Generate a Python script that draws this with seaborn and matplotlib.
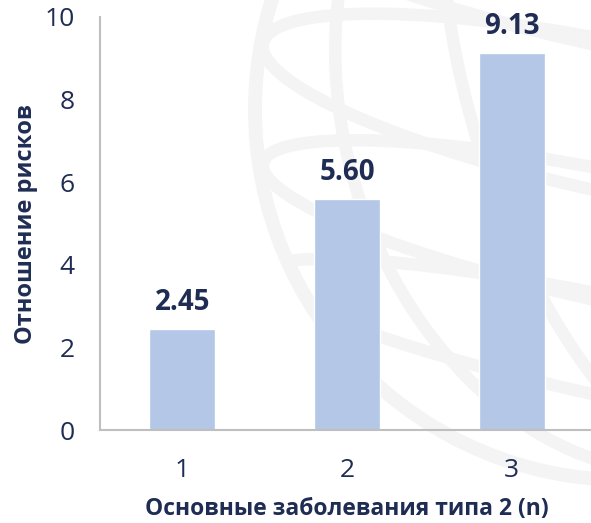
import pandas as pd
import matplotlib.pyplot as plt
import seaborn as sns
from matplotlib.patches import Ellipse, Circle

sns.set_style('white')
plt.rcParams['font.family'] = ['Open Sans', 'DejaVu Sans']

# chart data
categories = ['1', '2', '3']
risk_ratio = [2.45, 5.60, 9.13]
value_labels = ['2.45', '5.60', '9.13']

navy = '#1F2D54'
grey = '#BFBFBF'
bar_color = '#B4C7E7'

df = pd.DataFrame({'n': categories, 'ratio': risk_ratio})

fig = plt.figure(figsize=(5.91, 5.23), dpi=100)

# faint globe watermark in the background (pixel coords, y down)
wm = fig.add_axes([0, 0, 1, 1], zorder=0)
wm.set_xlim(0, 591)
wm.set_ylim(523, 0)
wm.axis('off')
wm_col = '#F4F4F4'
cx, cy, r = 625, 110, 370
outer = Circle((cx, cy), r, fill=False, ec=wm_col, lw=10)
wm.add_patch(outer)
clip = Circle((cx, cy), r, transform=wm.transData)
for w in [560, 300]:
    e = Ellipse((cx, cy), w, 2 * r, angle=-18, fill=False, ec=wm_col, lw=9)
    wm.add_patch(e)
    e.set_clip_path(clip)
for dy, h in [(-120, 120), (10, 150), (130, 130), (240, 100)]:
    e = Ellipse((cx, cy + dy), 2 * r, h, angle=12, fill=False, ec=wm_col, lw=9)
    wm.add_patch(e)
    e.set_clip_path(clip)

ax = fig.add_axes([100 / 591, 93 / 523, 494 / 591, 413 / 523], zorder=1)
ax.patch.set_alpha(0)
sns.barplot(data=df, x='n', y='ratio', color=bar_color, width=0.4,
            saturation=1, ax=ax)

ax.set_xlim(-0.5, 2.5)
ax.set_ylim(0, 10)

for i, lab in enumerate(value_labels):
    ax.annotate(lab, (i, risk_ratio[i]), xytext=(0, 19), textcoords='offset points',
                ha='center', va='center', fontsize=20, fontweight='bold', color=navy)

for s in ['top', 'right']:
    ax.spines[s].set_visible(False)
for s in ['left', 'bottom']:
    ax.spines[s].set_color(grey)
    ax.spines[s].set_linewidth(1.5)

ax.set_yticks([0, 2, 4, 6, 8, 10])
ax.set_yticks([1, 3, 5, 7, 9], minor=True)
ax.set_xticks([0, 1, 2])
ax.set_xticks([-0.5, 0.5, 1.5, 2.5], minor=True)
ax.tick_params(axis='y', which='major', length=7, width=1.5, color=grey,
               labelsize=19, labelcolor=navy, pad=11)
ax.tick_params(axis='y', which='minor', length=5, width=1.5, color=grey)
ax.tick_params(axis='x', which='major', length=0, labelsize=19, labelcolor=navy, pad=20)
ax.tick_params(axis='x', which='minor', length=7, width=1.5, color=grey)

ax.set_xlabel('Основные заболевания типа 2 (n)', fontsize=16.5, fontweight='bold',
              color=navy, labelpad=10)
ax.set_ylabel('Отношение рисков', fontsize=17, fontweight='bold', color=navy, labelpad=5)

fig.savefig('out.png', dpi=100)
